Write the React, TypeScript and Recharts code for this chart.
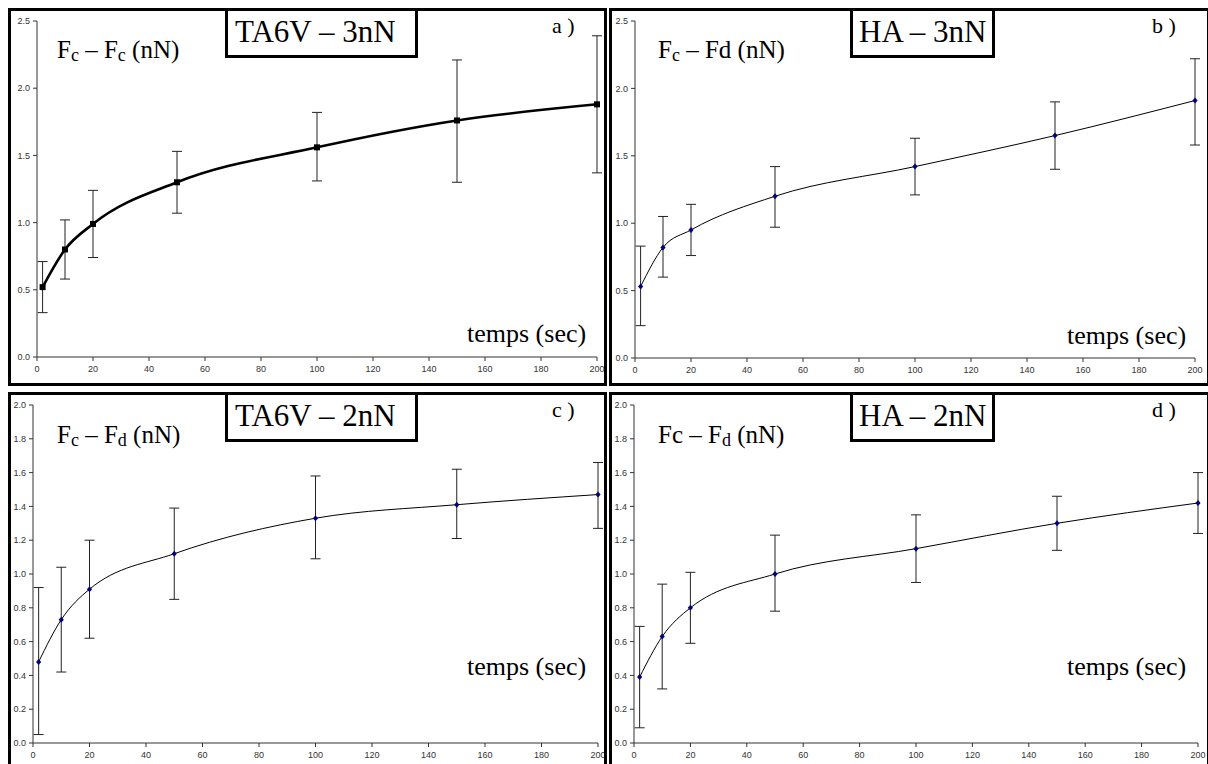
import React from "react";
import { ComposedChart, Line, XAxis, YAxis, ErrorBar } from "recharts";

// temps (sec)
const times = [2, 10, 20, 50, 100, 150, 200];
const xTicks = [0, 20, 40, 60, 80, 100, 120, 140, 160, 180, 200];
const yTicks3 = [0, 0.5, 1.0, 1.5, 2.0, 2.5];
const yTicks2 = [0, 0.2, 0.4, 0.6, 0.8, 1.0, 1.2, 1.4, 1.6, 1.8, 2.0];

// a) TA6V - 3nN
const ta6v3Mean = [0.52, 0.8, 0.99, 1.3, 1.56, 1.76, 1.88];
const ta6v3Low = [0.33, 0.58, 0.74, 1.07, 1.31, 1.3, 1.37];
const ta6v3High = [0.71, 1.02, 1.24, 1.53, 1.82, 2.21, 2.39];

// b) HA - 3nN
const ha3Mean = [0.53, 0.82, 0.95, 1.2, 1.42, 1.65, 1.91];
const ha3Low = [0.24, 0.6, 0.76, 0.97, 1.21, 1.4, 1.58];
const ha3High = [0.83, 1.05, 1.14, 1.42, 1.63, 1.9, 2.22];

// c) TA6V - 2nN
const ta6v2Mean = [0.48, 0.73, 0.91, 1.12, 1.33, 1.41, 1.47];
const ta6v2Low = [0.05, 0.42, 0.62, 0.85, 1.09, 1.21, 1.27];
const ta6v2High = [0.92, 1.04, 1.2, 1.39, 1.58, 1.62, 1.66];

// d) HA - 2nN
const ha2Mean = [0.39, 0.63, 0.8, 1.0, 1.15, 1.3, 1.42];
const ha2Low = [0.09, 0.32, 0.59, 0.78, 0.95, 1.14, 1.24];
const ha2High = [0.69, 0.94, 1.01, 1.23, 1.35, 1.46, 1.6];

const buildRows = (mean: number[], low: number[], high: number[]) =>
  times.map((t, i) => ({
    t,
    mean: mean[i],
    err: [mean[i] - low[i], high[i] - mean[i]],
  }));

const SERIF = "'Times New Roman', 'Liberation Serif', serif";
const SANS = "Arial, 'Liberation Sans', sans-serif";

const squareDot = (p: any) => (
  <rect key={`sq${p.index}`} x={p.cx - 3} y={p.cy - 3} width={6} height={6} fill="#000" />
);

const diamondDot = (p: any) => (
  <path
    key={`dm${p.index}`}
    d={`M${p.cx},${p.cy - 3}L${p.cx + 2.6},${p.cy}L${p.cx},${p.cy + 3}L${p.cx - 2.6},${p.cy}Z`}
    fill="#000080"
  />
);

function Txt({ left, baseline, size, children }: any) {
  return (
    <div
      style={{
        position: "absolute",
        left,
        top: baseline - 0.8375 * size,
        fontFamily: SERIF,
        fontSize: size,
        lineHeight: 1,
        whiteSpace: "nowrap",
        color: "#000",
      }}
    >
      {children}
    </div>
  );
}

const Sub = ({ children }: any) => (
  <span style={{ fontSize: "0.72em", position: "relative", top: "0.18em" }}>{children}</span>
);

interface PanelProps {
  left: number;
  top: number;
  width: number;
  height: number;
  margin: { top: number; right: number; bottom: number; left: number };
  yWidth: number;
  xHeight: number;
  yMax: number;
  yTicks: number[];
  rows: any[];
  thick: boolean;
}

function Panel({ left, top, width, height, margin, yWidth, xHeight, yMax, yTicks, rows, thick }: PanelProps) {
  const tickStyle = { fontSize: 9, fontFamily: SANS, fill: "#333" };
  return (
    <div style={{ position: "absolute", left, top, width, height }}>
      <ComposedChart width={width} height={height} data={rows} margin={margin}>
        <XAxis
          type="number"
          dataKey="t"
          domain={[0, 200]}
          ticks={xTicks}
          height={xHeight}
          tick={tickStyle}
          tickSize={4}
          tickMargin={5}
          stroke="#333"
          interval={0}
        />
        <YAxis
          type="number"
          domain={[0, yMax]}
          ticks={yTicks}
          width={yWidth}
          tick={tickStyle}
          tickSize={4}
          tickMargin={3}
          stroke="#333"
          interval={0}
          tickFormatter={(v: number) => v.toFixed(1)}
        />
        <Line
          type="monotone"
          dataKey="mean"
          stroke="#000"
          strokeWidth={thick ? 2.6 : 1}
          dot={thick ? squareDot : diamondDot}
          activeDot={false}
          isAnimationActive={false}
        >
          <ErrorBar dataKey="err" width={5} strokeWidth={1} stroke="#222" direction="y" isAnimationActive={false} />
        </Line>
      </ComposedChart>
    </div>
  );
}

function Frame({ left, top, width, height, border }: any) {
  return (
    <div
      style={{
        position: "absolute",
        left,
        top,
        width,
        height,
        border: `${border}px solid #000`,
        boxSizing: "border-box",
        pointerEvents: "none",
      }}
    />
  );
}

function TitleBox({ left, top, width, height, textLeft, baseline, text }: any) {
  return (
    <>
      <div
        style={{
          position: "absolute",
          left,
          top,
          width,
          height,
          border: "3px solid #000",
          boxSizing: "border-box",
          background: "#fff",
        }}
      />
      <Txt left={textLeft} baseline={baseline} size={31}>
        {text}
      </Txt>
    </>
  );
}

export default function App() {
  return (
    <div
      style={{
        position: "absolute",
        left: 0,
        top: 0,
        width: 1208,
        height: 764,
        overflow: "hidden",
        background: "#fff",
      }}
    >
      <style>{`.recharts-surface { overflow: visible; }`}</style>
      <Panel
        left={8}
        top={8}
        width={595}
        height={378}
        margin={{ top: 13, right: 6, bottom: 9, left: 0 }}
        yWidth={29}
        xHeight={20}
        yMax={2.5}
        yTicks={yTicks3}
        rows={buildRows(ta6v3Mean, ta6v3Low, ta6v3High)}
        thick
      />
      <Panel
        left={609}
        top={8}
        width={599}
        height={378}
        margin={{ top: 13, right: 13, bottom: 8, left: 0 }}
        yWidth={26}
        xHeight={20}
        yMax={2.5}
        yTicks={yTicks3}
        rows={buildRows(ha3Mean, ha3Low, ha3High)}
        thick={false}
      />
      <Panel
        left={8}
        top={392}
        width={595}
        height={375}
        margin={{ top: 13, right: 5, bottom: 8, left: 0 }}
        yWidth={25}
        xHeight={16}
        yMax={2.0}
        yTicks={yTicks2}
        rows={buildRows(ta6v2Mean, ta6v2Low, ta6v2High)}
        thick={false}
      />
      <Panel
        left={609}
        top={392}
        width={599}
        height={375}
        margin={{ top: 13, right: 10, bottom: 8, left: 0 }}
        yWidth={25}
        xHeight={16}
        yMax={2.0}
        yTicks={yTicks2}
        rows={buildRows(ha2Mean, ha2Low, ha2High)}
        thick={false}
      />

      <Frame left={8} top={8} width={599} height={378} border={3} />
      <Frame left={609} top={8} width={601} height={378} border={3} />
      <Frame left={8} top={392} width={599} height={376} border={3} />
      <Frame left={609} top={392} width={601} height={376} border={3} />

      <TitleBox left={225} top={8} width={193} height={50} textLeft={235} baseline={42} text="TA6V – 3nN" />
      <TitleBox left={850} top={8} width={145} height={50} textLeft={859} baseline={42} text="HA – 3nN" />
      <TitleBox left={225} top={392} width={193} height={50} textLeft={235} baseline={426} text="TA6V – 2nN" />
      <TitleBox left={850} top={392} width={145} height={50} textLeft={859} baseline={426} text="HA – 2nN" />

      <Txt left={57} baseline={58} size={25}>
        F<Sub>c</Sub> – F<Sub>c</Sub> (nN)
      </Txt>
      <Txt left={658} baseline={58} size={25}>
        F<Sub>c</Sub> – Fd (nN)
      </Txt>
      <Txt left={57} baseline={443} size={25}>
        F<Sub>c</Sub> – F<Sub>d</Sub> (nN)
      </Txt>
      <Txt left={658} baseline={443} size={25}>
        Fc – F<Sub>d</Sub> (nN)
      </Txt>

      <Txt left={552} baseline={33} size={22}>a )</Txt>
      <Txt left={1152} baseline={33} size={22}>b )</Txt>
      <Txt left={552} baseline={417} size={22}>c )</Txt>
      <Txt left={1152} baseline={417} size={22}>d )</Txt>

      <Txt left={467} baseline={343} size={26}>temps (sec)</Txt>
      <Txt left={1067} baseline={345} size={26}>temps (sec)</Txt>
      <Txt left={467} baseline={676} size={26}>temps (sec)</Txt>
      <Txt left={1067} baseline={676} size={26}>temps (sec)</Txt>
    </div>
  );
}
